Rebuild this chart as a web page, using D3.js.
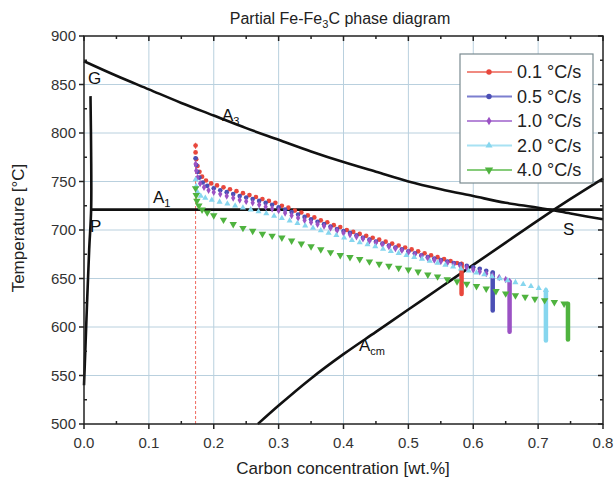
<!DOCTYPE html>
<html><head><meta charset="utf-8">
<script src="https://cdn.jsdelivr.net/npm/d3@7"></script>
<style>body{margin:0;background:#fff;}svg{display:block;font-family:"Liberation Sans",Arial,sans-serif;}</style>
</head><body>
<svg id="chart" width="614" height="483"></svg>
<script>
// ---------- data ----------
const xTicks = [0, 0.1, 0.2, 0.3, 0.4, 0.5, 0.6, 0.7, 0.8];
const yTicks = [500, 550, 600, 650, 700, 750, 800, 850, 900];
const seriesNames = ["0.1 °C/s", "0.5 °C/s", "1.0 °C/s", "2.0 °C/s", "4.0 °C/s"];

const rate01 = [[0.172,787],[0.172,780],[0.173,773],[0.175,766],[0.178,760],[0.182,755],[0.188,751],[0.196,748],[0.205,746],[0.215,744],[0.225,742],[0.235,740],[0.245,738],[0.255,736],[0.265,734],[0.275,732],[0.285,730],[0.295,728],[0.305,725],[0.315,723],[0.325,720],[0.335,718],[0.345,715],[0.355,713],[0.365,710],[0.375,708],[0.385,705],[0.395,703],[0.405,700],[0.415,698],[0.425,696],[0.435,694],[0.445,692],[0.455,690],[0.465,688],[0.475,686],[0.485,684],[0.495,682],[0.505,680],[0.515,678],[0.525,676],[0.535,674],[0.545,672],[0.555,670],[0.565,668],[0.575,666],[0.582,665]];
const rate05 = [[0.172,774],[0.173,767],[0.175,760],[0.178,754],[0.183,749],[0.19,745.5],[0.2,743],[0.21,741],[0.22,739],[0.23,737],[0.24,735],[0.25,733.5],[0.26,732],[0.27,730],[0.28,728],[0.29,726],[0.30,723.5],[0.31,721],[0.32,718.5],[0.33,716],[0.34,713.5],[0.35,711],[0.36,708.5],[0.37,706],[0.38,703.5],[0.39,701],[0.40,699],[0.41,697],[0.42,694.5],[0.43,692],[0.44,690],[0.45,688],[0.46,686],[0.47,684],[0.48,682],[0.49,680],[0.50,678],[0.51,676],[0.52,674],[0.53,672],[0.54,670.5],[0.55,669],[0.56,667.5],[0.57,666],[0.58,664.5],[0.59,663],[0.60,661.5],[0.61,660],[0.62,658],[0.63,656]];
const rate10 = [[0.172,768],[0.173,761],[0.175,754],[0.179,748],[0.185,744],[0.192,741],[0.2,739],[0.21,737],[0.22,735],[0.23,733],[0.24,731],[0.25,729.5],[0.26,728],[0.27,726],[0.28,724],[0.29,722],[0.30,720],[0.31,717.5],[0.32,715],[0.33,712.5],[0.34,710],[0.35,708],[0.36,706],[0.37,704],[0.38,702],[0.39,699.5],[0.40,697],[0.41,695],[0.42,693],[0.43,691],[0.44,689],[0.45,687],[0.46,685],[0.47,683],[0.48,681],[0.49,679],[0.50,677],[0.51,675],[0.52,673],[0.53,671],[0.54,669],[0.55,667.5],[0.56,666],[0.57,664.5],[0.58,663],[0.59,661],[0.60,659],[0.61,657],[0.62,655],[0.63,653],[0.64,651],[0.65,649],[0.656,647]];
const rate20 = [[0.172,752],[0.173,745],[0.175,739],[0.18,735],[0.187,733],[0.197,731],[0.209,729],[0.221,727],[0.233,725],[0.245,723],[0.257,721],[0.269,719],[0.281,717],[0.293,714.5],[0.305,712],[0.317,709.5],[0.329,707],[0.341,704.5],[0.353,702],[0.365,699.5],[0.377,697],[0.389,694.5],[0.401,692],[0.413,689.5],[0.425,687],[0.437,685],[0.449,683],[0.461,680.5],[0.473,678],[0.485,676],[0.497,674],[0.509,672],[0.521,670],[0.533,668],[0.545,666],[0.557,664],[0.569,662],[0.581,660],[0.593,658],[0.605,656],[0.617,654],[0.629,652],[0.641,650],[0.653,648],[0.665,646],[0.677,644],[0.689,642],[0.701,640],[0.712,638]];
const rate40 = [[0.172,743],[0.173,736],[0.174,730],[0.177,725],[0.182,721],[0.19,718],[0.2,715],[0.215,710.5],[0.23,706],[0.245,702],[0.26,699],[0.275,696],[0.29,694],[0.305,692],[0.32,689],[0.335,686],[0.35,683],[0.365,680],[0.38,677],[0.395,674],[0.41,672],[0.425,670],[0.44,667.5],[0.455,665],[0.47,663],[0.485,661],[0.5,659],[0.515,657],[0.53,654],[0.545,652],[0.56,649],[0.575,647],[0.59,644.5],[0.605,642],[0.62,639.5],[0.635,637],[0.65,634.5],[0.665,632.5],[0.68,631],[0.695,629],[0.71,627.5],[0.725,625.5],[0.74,624]];
// final drop at end of each run: [x, topT, bottomT]
const endDrops = [[0.582,665,634],[0.630,656,617],[0.656,647,595],[0.712,638,586],[0.746,624,587]];

const lineA3 = [[0,874],[0.05,859],[0.1,845],[0.15,831],[0.2,818],[0.25,805],[0.3,793],[0.35,781],[0.4,770],[0.45,760],[0.5,750],[0.55,742],[0.6,735],[0.65,728],[0.7,723],[0.75,717],[0.8,711]];
const lineAcm = [[0.268,500],[0.3,519],[0.35,547],[0.4,572],[0.45,595],[0.5,618],[0.55,641],[0.6,664],[0.65,687],[0.7,710],[0.75,732],[0.8,753]];
const lineA1 = [[0.011,721],[0.8,721]];
const lineGP = [[0.010,838],[0.011,780],[0.011,721],[0.008,680],[0.005,630],[0.002,575],[0,540]];
const startLine = [[0.172,500],[0.172,790]];

// ---------- setup ----------
const svg = d3.select("#chart");
const X0 = 84, X1 = 603, Y0 = 424, Y1 = 36;
const x = d3.scaleLinear().domain([0, 0.8]).range([X0, X1]);
const y = d3.scaleLinear().domain([500, 900]).range([Y0, Y1]);
const colors = ["#e8473c", "#4b4fb5", "#9b52c4", "#86d6ee", "#4fb33f"];
const lightColors = ["#f08a80", "#7c7fcf", "#b688d8", "#a8e2f3", "#86cc7a"];
const symbols = [d3.symbolCircle, d3.symbolCircle, d3.symbolDiamond, d3.symbolTriangle, d3.symbolTriangle];
const symSize = [17, 17, 16, 16, 24];
const symRot = [0, 0, 0, 0, 180];
const allSeries = [rate01, rate05, rate10, rate20, rate40];

// grid
const grid = svg.append("g");
xTicks.slice(1, -1).forEach(t => grid.append("line").attr("x1", x(t)).attr("x2", x(t)).attr("y1", Y1).attr("y2", Y0).attr("stroke", "#b9d0de").attr("stroke-width", 1));
yTicks.slice(1, -1).forEach(t => grid.append("line").attr("x1", X0).attr("x2", X1).attr("y1", y(t)).attr("y2", y(t)).attr("stroke", "#b9d0de").attr("stroke-width", 1));

const line = d3.line().x(d => x(d[0])).y(d => y(d[1]));

// start dashed line
svg.append("path").attr("d", line(startLine)).attr("stroke", "#ef6a5f").attr("stroke-width", 1).attr("stroke-dasharray", "3,2").attr("fill", "none");

// phase lines
const phase = svg.append("g").attr("fill", "none").attr("stroke", "#111").attr("stroke-width", 2.6);
[lineA3, lineAcm, lineA1].forEach(l => phase.append("path").attr("d", d3.line().curve(d3.curveMonotoneX).x(d => x(d[0])).y(d => y(d[1]))(l)));
phase.append("path").attr("d", d3.line().curve(d3.curveCatmullRom).x(d => x(d[0])).y(d => y(d[1]))(lineGP));

// series
allSeries.forEach((s, i) => {
  const g = svg.append("g").attr("fill", colors[i]);
  g.selectAll("path").data(s).join("path")
    .attr("d", d3.symbol().type(symbols[i]).size(symSize[i]))
    .attr("transform", d => `translate(${x(d[0])},${y(d[1])}) rotate(${symRot[i]})`);
  const e = endDrops[i];
  svg.append("line").attr("x1", x(e[0])).attr("x2", x(e[0])).attr("y1", y(e[1])).attr("y2", y(e[2]))
    .attr("stroke", colors[i]).attr("stroke-width", 4.5).attr("stroke-linecap", "round");
});

// axes frame
const ax = svg.append("g").attr("stroke", "#222").attr("stroke-width", 1.5);
ax.append("rect").attr("x", X0).attr("y", Y1).attr("width", X1 - X0).attr("height", Y0 - Y1).attr("fill", "none");
const xMinor = d3.range(0.05, 0.8, 0.1);
const yMinor = d3.range(525, 900, 50);
xTicks.forEach(t => {
  ax.append("line").attr("x1", x(t)).attr("x2", x(t)).attr("y1", Y0).attr("y2", Y0 + 5);
  ax.append("line").attr("x1", x(t)).attr("x2", x(t)).attr("y1", Y1).attr("y2", Y1 + 5);
});
xMinor.forEach(t => {
  ax.append("line").attr("x1", x(t)).attr("x2", x(t)).attr("y1", Y0).attr("y2", Y0 - 3);
  ax.append("line").attr("x1", x(t)).attr("x2", x(t)).attr("y1", Y1).attr("y2", Y1 + 3);
});
yTicks.forEach(t => {
  ax.append("line").attr("x1", X0 - 5).attr("x2", X0).attr("y1", y(t)).attr("y2", y(t));
  ax.append("line").attr("x1", X1 - 5).attr("x2", X1).attr("y1", y(t)).attr("y2", y(t));
});
yMinor.forEach(t => {
  ax.append("line").attr("x1", X0).attr("x2", X0 + 3).attr("y1", y(t)).attr("y2", y(t));
  ax.append("line").attr("x1", X1 - 3).attr("x2", X1).attr("y1", y(t)).attr("y2", y(t));
});

// tick labels
const tl = svg.append("g").attr("font-size", 15).attr("fill", "#333");
xTicks.forEach(t => tl.append("text").attr("x", x(t)).attr("y", Y0 + 24).attr("text-anchor", "middle").text(d3.format(".1f")(t)));
yTicks.forEach(t => tl.append("text").attr("x", X0 - 8).attr("y", y(t) + 5).attr("text-anchor", "end").text(t));

// axis titles
svg.append("text").attr("x", 343).attr("y", 474).attr("text-anchor", "middle").attr("font-size", 17).attr("fill", "#222").text("Carbon concentration [wt.%]");
svg.append("text").attr("transform", "translate(24,228) rotate(-90)").attr("text-anchor", "middle").attr("font-size", 17).attr("fill", "#222").text("Temperature [°C]");
const title = svg.append("text").attr("x", 340).attr("y", 24).attr("text-anchor", "middle").attr("font-size", 16).attr("fill", "#222");
title.append("tspan").text("Partial Fe-Fe");
title.append("tspan").attr("font-size", 11).attr("dy", 4).text("3");
title.append("tspan").attr("dy", -4).text("C phase diagram");

// phase labels
function label(xp, yp, main, sub) {
  const t = svg.append("text").attr("x", xp).attr("y", yp).attr("font-size", 17).attr("fill", "#111");
  t.append("tspan").text(main);
  if (sub) t.append("tspan").attr("font-size", 11).attr("dy", 4).text(sub);
}
label(88, 84, "G");
label(222, 121, "A", "3");
label(153, 203, "A", "1");
label(90, 232, "P");
label(563, 235, "S");
label(359, 351, "A", "cm");

// legend
const lg = svg.append("g");
lg.append("rect").attr("x", 460).attr("y", 54).attr("width", 133).attr("height", 129).attr("fill", "#fff").attr("stroke", "#7a8a90").attr("stroke-width", 1.2);
seriesNames.forEach((n, i) => {
  const yy = 72 + i * 24.5;
  lg.append("line").attr("x1", 467).attr("x2", 512).attr("y1", yy).attr("y2", yy).attr("stroke", lightColors[i]).attr("stroke-width", 2);
  lg.append("path").attr("d", d3.symbol().type(symbols[i]).size(symSize[i] + 6)).attr("fill", colors[i])
    .attr("transform", `translate(489,${yy}) rotate(${symRot[i]})`);
  lg.append("text").attr("x", 517).attr("y", yy + 6).attr("font-size", 18).attr("fill", "#222").text(n);
});
</script>
</body></html>
